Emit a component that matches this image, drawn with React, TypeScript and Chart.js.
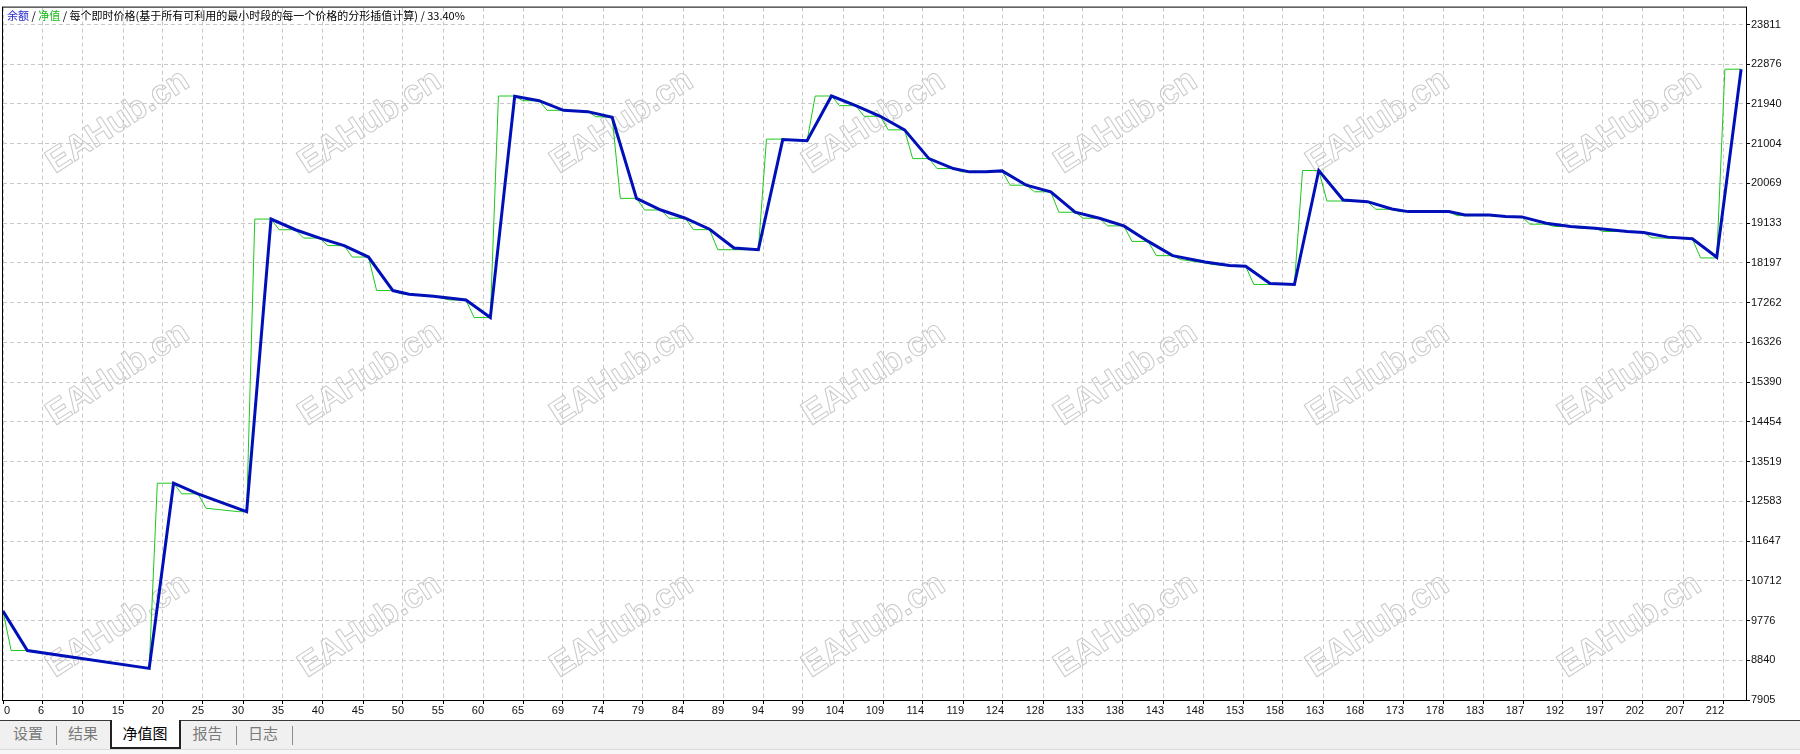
import React, { useEffect, useRef } from 'react';
import { Chart, registerables } from 'chart.js';

Chart.register(...registerables);

// ---- data ----
const X_TICK_LABELS = ['0', '6', '10', '15', '20', '25', '30', '35', '40', '45', '50', '55', '60', '65', '69', '74', '79', '84', '89', '94', '99', '104', '109', '114', '119', '124', '128', '133', '138', '143', '148', '153', '158', '163', '168', '173', '178', '183', '187', '192', '197', '202', '207', '212'];
const Y_TICK_LABELS = ['7905', '8840', '9776', '10712', '11647', '12583', '13519', '14454', '15390', '16326', '17262', '18197', '19133', '20069', '21004', '21940', '22876', '23811'];

// balance (blue) vertices: trade index / value
const BALANCE_X = [0, 3, 18, 21, 24, 30, 33, 36, 39, 42, 45, 48, 50, 53, 57, 60, 63, 66, 69, 72, 75, 78, 81, 84, 87, 90, 93, 96, 99, 102, 105, 108, 111, 114, 117, 119, 121, 123, 126, 129, 132, 135, 138, 141, 144, 148, 151, 153, 156, 159, 162, 165, 168, 171, 173, 178, 180, 183, 185, 187, 190, 193, 196, 200, 202, 205, 208, 211, 214];
const BALANCE_Y = [10000, 9070, 8650, 13010, 12760, 12340, 19229, 18978, 18782, 18604, 18335, 17546, 17460, 17413, 17324, 16910, 22120, 22016, 21790, 21759, 21627, 19717, 19443, 19249, 18990, 18547, 18508, 21100, 21073, 22127, 21900, 21650, 21330, 20653, 20419, 20341, 20341, 20364, 20027, 19872, 19390, 19249, 19069, 18703, 18368, 18220, 18134, 18119, 17713, 17689, 20372, 19677, 19639, 19467, 19405, 19405, 19327, 19327, 19288, 19280, 19132, 19054, 19015, 18937, 18913, 18804, 18765, 18329, 22758];

// equity (green) vertices: trade index / value
const EQUITY_X = [0, 1, 3, 18, 19, 21, 22, 24, 25, 29, 30, 31, 33, 34, 36, 37, 39, 40, 42, 43, 45, 46, 48, 49, 53, 55, 57, 58, 60, 61, 63, 64, 66, 67, 69, 72, 73, 75, 76, 78, 79, 81, 82, 84, 85, 87, 88, 93, 94, 96, 99, 100, 102, 103, 105, 106, 108, 109, 111, 112, 114, 115, 117, 118, 121, 123, 124, 126, 127, 129, 130, 132, 133, 135, 136, 138, 139, 141, 142, 144, 145, 148, 149, 151, 153, 154, 159, 160, 162, 163, 165, 168, 169, 171, 172, 178, 179, 183, 185, 187, 188, 190, 191, 193, 194, 196, 197, 200, 201, 202, 203, 208, 209, 211, 212, 214];
const EQUITY_Y = [10000, 9070, 9070, 8650, 13010, 13010, 12760, 12760, 12420, 12340, 12340, 19229, 19229, 18978, 18978, 18782, 18782, 18604, 18604, 18335, 18335, 17546, 17546, 17470, 17413, 17324, 17324, 16910, 16910, 22127, 22127, 22016, 22016, 21790, 21790, 21759, 21640, 21627, 19717, 19717, 19443, 19443, 19249, 19249, 18980, 18980, 18508, 18508, 21112, 21112, 21073, 22127, 22127, 21900, 21900, 21650, 21650, 21330, 21330, 20653, 20653, 20419, 20419, 20341, 20341, 20364, 20027, 20027, 19872, 19872, 19390, 19390, 19249, 19249, 19069, 19069, 18703, 18703, 18368, 18368, 18275, 18197, 18158, 18134, 18119, 17689, 17689, 20372, 20372, 19655, 19655, 19639, 19460, 19460, 19405, 19405, 19311, 19311, 19288, 19280, 19109, 19109, 19054, 19054, 19015, 19015, 18937, 18937, 18913, 18913, 18788, 18765, 18314, 18314, 22758, 22758];

const TITLE_BALANCE = '余额';
const TITLE_EQUITY = '净值';
const TITLE_REST = '每个即时价格(基于所有可利用的最小时段的每一个价格的分形插值计算) / 33.40%';
const TABS = ['设置', '结果', '净值图', '报告', '日志'];
const WATERMARK = 'EAHub.cn';

// ---- axis geometry ----
const X_MAX = 214.6;
const PLOT_W = 1743;
const GRID_PX = 40;
const X_STEP = (GRID_PX * X_MAX) / PLOT_W;
const Y_MIN = Number(Y_TICK_LABELS[0]);
const Y_STEP = (Number(Y_TICK_LABELS[Y_TICK_LABELS.length - 1]) - Y_MIN) / (Y_TICK_LABELS.length - 1);
const Y_MAX = Y_MIN + (Y_STEP * 697) / GRID_PX;

const AXIS_FONT = { family: '"Liberation Sans", Arial, sans-serif', size: 11 };

const watermarkPlugin = {
  id: 'watermark',
  beforeDatasetsDraw(chart: any) {
    const { ctx, chartArea: a } = chart;
    ctx.save();
    ctx.beginPath();
    ctx.rect(a.left, a.top, a.right - a.left, a.bottom - a.top);
    ctx.clip();
    ctx.font = 'bold 34px "Liberation Sans", Arial, sans-serif';
    ctx.strokeStyle = '#cacaca';
    ctx.lineWidth = 1;
    ctx.lineJoin = 'round';
    ctx.textAlign = 'center';
    ctx.textBaseline = 'middle';
    for (const cy of [122, 374, 626]) {
      for (let j = 0; j < 7; j++) {
        ctx.save();
        ctx.translate(118 + 252 * j, cy);
        ctx.rotate((-33 * Math.PI) / 180);
        ctx.strokeText(WATERMARK, 0, 0);
        ctx.restore();
      }
    }
    ctx.restore();
  },
};

const framePlugin = {
  id: 'frame',
  afterDraw(chart: any) {
    const { ctx, chartArea: a, scales } = chart;
    ctx.save();
    ctx.strokeStyle = '#000';
    ctx.lineWidth = 1;
    ctx.strokeRect(a.left - 0.5, a.top - 0.5, a.right - a.left + 1, a.bottom - a.top + 1);
    ctx.font = '11px "Liberation Sans", Arial, sans-serif';
    ctx.fillStyle = '#111';
    ctx.textBaseline = 'middle';
    X_TICK_LABELS.forEach((t, k) => {
      const x = scales.x.getPixelForValue(k * X_STEP);
      if (k === 0) {
        ctx.textAlign = 'left';
        ctx.fillText(t, x + 1, 711);
      } else {
        ctx.textAlign = 'right';
        ctx.fillText(t, x + 1, 711);
      }
    });
    ctx.restore();
  },
};

export default function App() {
  const canvasRef = useRef<HTMLCanvasElement | null>(null);

  useEffect(() => {
    const canvas = canvasRef.current;
    if (!canvas) return;
    const gridCommon = {
      color: '#c8c8c8',
      tickColor: '#000',
      tickLength: 4,
      drawTicks: true,
      lineWidth: 1,
    };
    const chart = new Chart(canvas, {
      type: 'line',
      data: {
        datasets: [
          {
            label: TITLE_BALANCE,
            data: BALANCE_X.map((x, i) => ({ x, y: BALANCE_Y[i] })),
            borderColor: '#0010b8',
            borderWidth: 3,
            pointRadius: 0,
            tension: 0,
            fill: false,
          },
          {
            label: TITLE_EQUITY,
            data: EQUITY_X.map((x, i) => ({ x, y: EQUITY_Y[i] })),
            borderColor: '#1ec81e',
            borderWidth: 1,
            pointRadius: 0,
            tension: 0,
            fill: false,
          },
        ],
      },
      options: {
        animation: false,
        responsive: false,
        devicePixelRatio: 1,
        layout: { padding: { left: 3, top: 3, right: 0, bottom: 0 } },
        plugins: { legend: { display: false }, tooltip: { enabled: false }, title: { display: false } },
        scales: {
          x: {
            type: 'linear',
            min: 0,
            max: X_MAX,
            grid: gridCommon,
            border: { display: false, dash: [4, 3] },
            ticks: { display: false, autoSkip: false },
            afterBuildTicks: (s: any) => {
              s.ticks = X_TICK_LABELS.map((_, k) => ({ value: k * X_STEP }));
            },
            afterFit: (s: any) => {
              s.height = 21;
            },
          },
          y: {
            type: 'linear',
            position: 'right',
            min: Y_MIN,
            max: Y_MAX,
            grid: gridCommon,
            border: { display: false, dash: [4, 3] },
            ticks: {
              autoSkip: false,
              padding: 1,
              color: '#111',
              font: AXIS_FONT,
              callback: (v: any) => String(Math.round(Number(v))),
            },
            afterBuildTicks: (s: any) => {
              s.ticks = Y_TICK_LABELS.map((t) => ({ value: Number(t) }));
            },
            afterFit: (s: any) => {
              s.width = 54;
            },
          },
        },
      } as any,
      plugins: [watermarkPlugin, framePlugin],
    });
    return () => chart.destroy();
  }, []);

  const tabCenters = [28, 83, 145, 207.5, 263];
  const separators = [56, 236, 292];

  return (
    <div style={{ position: 'fixed', left: 0, top: 0, width: 1800, height: 754, background: '#fff', overflow: 'hidden' }}>
      <canvas ref={canvasRef} width={1800} height={721} style={{ position: 'absolute', left: 0, top: 0, width: 1800, height: 721, display: 'block' }} />
      <div
        style={{
          position: 'absolute',
          left: 7,
          top: 7,
          font: '11px "Noto Sans CJK SC", sans-serif',
          lineHeight: '16px',
          whiteSpace: 'nowrap',
          color: '#000',
        }}
      >
        <span style={{ color: '#2a2ad0' }}>{TITLE_BALANCE}</span>
        {' / '}
        <span style={{ color: '#12b812' }}>{TITLE_EQUITY}</span>
        {' / '}
        {TITLE_REST}
      </div>
      <div style={{ position: 'absolute', left: 0, top: 720, width: 1800, height: 1, background: '#3a3a3a' }} />
      <div style={{ position: 'absolute', left: 0, top: 721, width: 1800, height: 28, background: '#f0f0f0' }} />
      <div style={{ position: 'absolute', left: 0, top: 749, width: 1800, height: 1, background: '#dadada' }} />
      <div style={{ position: 'absolute', left: 0, top: 750, width: 1800, height: 4, background: '#f7f7f7' }} />
      <div
        style={{
          position: 'absolute',
          left: 110,
          top: 720,
          width: 71,
          height: 29,
          background: '#fff',
          borderLeft: '2px solid #222',
          borderRight: '2px solid #222',
          borderBottom: '2px solid #222',
          boxSizing: 'border-box',
        }}
      />
      {separators.map((x, i) => (
        <div key={'s' + i} style={{ position: 'absolute', left: x, top: 726, width: 1, height: 19, background: '#8c8c8c' }} />
      ))}
      {TABS.map((t, i) => (
        <div
          key={t}
          style={{
            position: 'absolute',
            left: tabCenters[i] - 30,
            width: 60,
            top: 724,
            textAlign: 'center',
            font: '15px "Noto Sans CJK SC", sans-serif',
            lineHeight: '18px',
            color: i === 2 ? '#000' : '#7a7a7a',
          }}
        >
          {t}
        </div>
      ))}
    </div>
  );
}
